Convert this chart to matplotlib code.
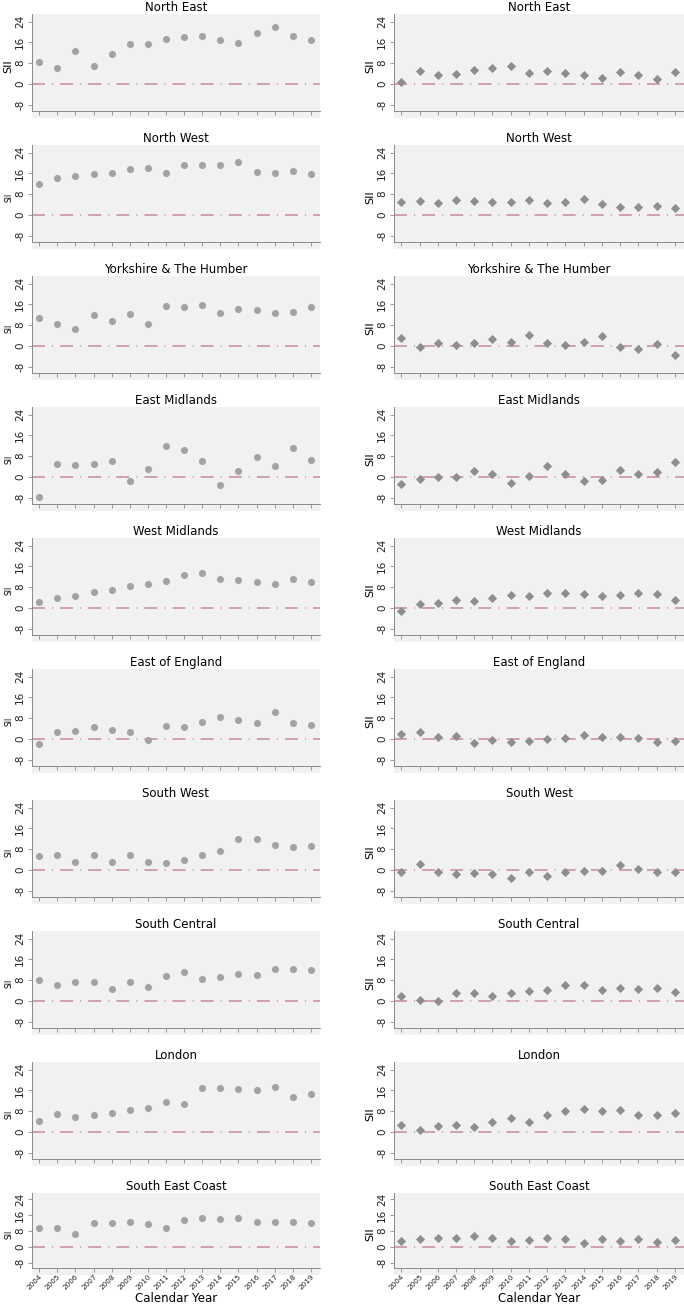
import matplotlib.pyplot as plt

years = [2004, 2005, 2006, 2007, 2008, 2009, 2010, 2011,
         2012, 2013, 2014, 2015, 2016, 2017, 2018, 2019]
year_labels = [str(y) for y in years]

regions = ['North East', 'North West', 'Yorkshire & The Humber', 'East Midlands',
           'West Midlands', 'East of England', 'South West', 'South Central',
           'London', 'South East Coast']

# left column (circles)
north_east_l = [8.3, 6.0, 12.6, 7.0, 11.4, 15.5, 15.4, 17.3, 18.3, 18.5, 16.9, 15.7, 19.6, 22.1, 18.5, 17.1]
north_west_l = [12.1, 14.3, 15.1, 15.7, 16.1, 17.8, 18.2, 16.0, 19.3, 19.3, 19.1, 20.4, 16.6, 16.1, 16.9, 15.9]
yorkshire_l = [10.8, 8.6, 6.7, 12.1, 9.5, 12.3, 8.5, 15.4, 15.0, 15.6, 12.6, 14.2, 13.8, 12.8, 13.0, 15.0]
east_mid_l = [-7.7, 5.1, 4.7, 5.1, 6.2, -1.7, 3.0, 11.9, 10.5, 6.0, -3.3, 2.1, 7.7, 4.3, 11.3, 6.4]
west_mid_l = [2.1, 3.8, 4.7, 6.2, 7.0, 8.5, 9.1, 10.4, 12.6, 13.4, 11.2, 10.7, 10.1, 9.4, 11.2, 9.9]
east_eng_l = [-2.1, 2.5, 3.2, 4.6, 3.4, 2.5, -0.3, 4.8, 4.5, 6.5, 8.6, 7.2, 6.2, 10.3, 6.3, 5.5]
south_west_l = [5.2, 5.9, 3.0, 5.6, 2.9, 5.6, 3.1, 2.6, 3.9, 5.9, 7.1, 11.9, 11.9, 9.6, 8.7, 9.2]
south_cen_l = [8.0, 6.2, 7.1, 7.1, 4.6, 7.2, 5.4, 9.5, 11.2, 8.5, 9.4, 10.3, 9.8, 12.3, 12.3, 12.0]
london_l = [4.0, 7.0, 5.7, 6.5, 7.3, 8.3, 9.1, 11.6, 10.9, 17.0, 17.0, 16.4, 16.3, 17.2, 13.4, 14.8]
se_coast_l = [9.7, 9.5, 6.7, 11.8, 12.0, 12.7, 11.4, 9.3, 13.5, 14.4, 14.1, 14.6, 12.3, 12.3, 12.3, 11.8]

# right column (diamonds)
north_east_r = [0.8, 4.9, 3.5, 3.9, 5.2, 6.0, 7.0, 4.2, 4.9, 4.3, 3.6, 2.3, 4.6, 3.6, 1.8, 4.4]
north_west_r = [5.0, 5.5, 4.7, 5.9, 5.2, 5.1, 4.9, 5.8, 4.6, 5.0, 6.2, 4.1, 3.1, 2.9, 3.5, 2.5]
yorkshire_r = [3.0, -0.4, 1.0, 0.3, 1.0, 2.6, 1.5, 4.0, 1.2, 0.5, 1.5, 3.9, -0.6, -1.3, 0.6, -3.4]
east_mid_r = [-2.8, -0.7, 0.1, -0.1, 2.4, 1.2, -2.2, 0.4, 4.3, 1.2, -1.7, -1.2, 2.5, 1.2, 1.8, 5.8]
west_mid_r = [-1.4, 1.4, 1.7, 3.0, 2.6, 3.9, 5.1, 4.4, 5.7, 5.6, 5.3, 4.6, 5.1, 5.6, 5.3, 3.0]
east_eng_r = [1.8, 2.5, 0.8, 1.2, -1.8, -0.4, -1.2, -0.8, 0.0, 0.4, 1.4, 0.6, 0.6, 0.3, -1.2, -0.9]
south_west_r = [-0.8, 2.2, -0.9, -1.8, -1.3, -1.8, -3.0, -1.0, -2.2, -1.0, -0.4, -0.5, 2.0, 0.5, -0.9, -1.0]
south_cen_r = [1.8, 0.4, 0.1, 2.9, 3.0, 1.7, 3.1, 3.8, 4.3, 6.2, 6.0, 4.3, 5.0, 4.6, 4.9, 3.4]
london_r = [2.5, 0.9, 2.2, 2.6, 1.8, 3.7, 5.2, 3.7, 6.4, 8.1, 8.7, 7.9, 8.3, 6.4, 6.4, 7.3]
se_coast_r = [3.0, 3.8, 4.7, 4.7, 5.4, 4.7, 3.0, 3.3, 4.3, 3.8, 2.1, 4.2, 3.0, 4.2, 2.6, 3.7]

left_vals = [north_east_l, north_west_l, yorkshire_l, east_mid_l, west_mid_l,
             east_eng_l, south_west_l, south_cen_l, london_l, se_coast_l]
right_vals = [north_east_r, north_west_r, yorkshire_r, east_mid_r, west_mid_r,
              east_eng_r, south_west_r, south_cen_r, london_r, se_coast_r]

W, H = 684, 1305
fig = plt.figure(figsize=(W / 100, H / 100), dpi=100)

cols = [(32, 320), (394, 684)]
ref_col = '#c98a96'
axis_col = '#8a8a8a'

for i, name in enumerate(regions):
    top = 14 + i * 131
    h = 97 if i < 9 else 75
    extra = 7
    for c, (x0, x1) in enumerate(cols):
        ax = fig.add_axes([x0 / W, 1 - (top + h + extra) / H, (x1 - x0) / W, (h + extra) / H])
        ax.set_facecolor('#f1f1f1')
        vals = left_vals[i] if c == 0 else right_vals[i]
        ax.axhline(0, color=ref_col, lw=1.1, ls=(0, (8.5, 4.6, 0.7, 4.6)), zorder=1)
        if c == 0:
            ax.scatter(years, vals, s=26, marker='o', color='#a3a3a3', lw=0, zorder=3)
        else:
            ax.scatter(years, vals, s=22, marker='D', color='#8e8e8e', lw=0, zorder=3)
        units_per_px = 37.5 / h
        ax.set_ylim(-10.5 - extra * units_per_px, 27)
        ax.set_xlim(2003.6, 2019.5)
        for s in ['top', 'right']:
            ax.spines[s].set_visible(False)
        ax.spines['bottom'].set_position(('data', -10.5))
        ax.spines['bottom'].set_bounds(2003.6, 2019.5)
        ax.spines['left'].set_bounds(-10.5, 27)
        for s in ['left', 'bottom']:
            ax.spines[s].set_color(axis_col)
            ax.spines[s].set_linewidth(0.7)
        ax.set_yticks([-8, 0, 8, 16, 24])
        ax.set_yticklabels(['-8', '0', '8', '16', '24'], rotation=90, va='center', fontsize=7.5)
        ax.set_xticks(years)
        ax.tick_params(colors=axis_col, length=3, width=0.6, labelcolor='#222222', pad=2)
        if i == 9:
            ax.set_xticklabels(year_labels, rotation=45, ha='right', rotation_mode='anchor', fontsize=5.2)
            ax.tick_params(axis='x', pad=1)
            fig.text((x0 + x1) / 2 / W, 1 - 1298 / H, 'Calendar Year', fontsize=8.5,
                     ha='center', va='center')
        else:
            ax.set_xticklabels([])
        ax.set_title(name, fontsize=8.5, pad=2)
        if c == 0 and i > 0:
            ax.set_ylabel('SII', fontsize=5.5, labelpad=1)
        else:
            ax.set_ylabel('SII', fontsize=8, labelpad=1)

fig.savefig('out.png', dpi=100, facecolor='white')
